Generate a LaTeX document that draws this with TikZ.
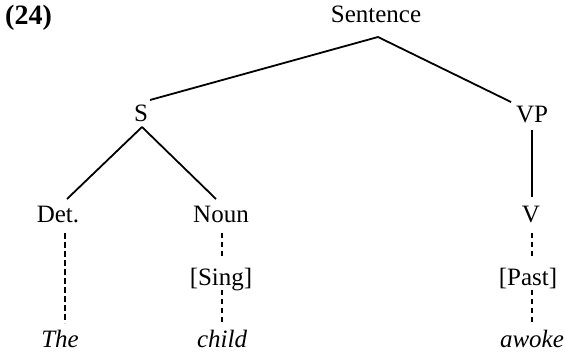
\documentclass[tikz,border=0pt]{standalone}
\usepackage{fontspec}
\setmainfont{Liberation Serif}
\begin{document}
\begin{tikzpicture}[x=1pt,y=-1pt,
  lab/.style={anchor=base,inner sep=0pt,font=\fontsize{25}{30}\selectfont},
  branch/.style={line width=1.8pt},
  dashA/.style={line width=2.4pt,dash pattern=on 6pt off 3pt},
  dashB/.style={line width=1.3pt,dash pattern=on 5pt off 4pt}]
\useasboundingbox (0,0) rectangle (565,351);
\node[lab,anchor=base west,font=\fontsize{28}{32}\selectfont\bfseries] (num) at (5,24) {(24)};
\node[lab] (Sent) at (376,22) {Sentence};
\node[lab] (S) at (141,121) {S};
\node[lab] (VP) at (532,122) {VP};
\node[lab] (Det) at (58,222) {Det.};
\node[lab] (Noun) at (221,222) {Noun};
\node[lab] (V) at (531,222) {V};
\node[lab] (Sing) at (221,285) {[Sing]};
\node[lab] (Past) at (528,285) {[Past]};
\node[lab] (The) at (60,347) {\itshape The};
\node[lab] (child) at (222,347) {\itshape child};
\node[lab] (awoke) at (532,347) {\itshape awoke};
% solid branches
\draw[branch] ([xshift=2pt,yshift=-15pt]Sent.base) -- ([xshift=9pt,yshift=21pt]S.base);
\draw[branch] ([xshift=2pt,yshift=-15pt]Sent.base) -- ([xshift=-21pt,yshift=20pt]VP.base);
\draw[branch] ([xshift=1pt,yshift=-6pt]S.base) -- ([xshift=9pt,yshift=23pt]Det.base);
\draw[branch] ([xshift=1pt,yshift=-6pt]S.base) -- ([xshift=-5pt,yshift=23pt]Noun.base);
\draw[branch] ([yshift=-8pt]VP.base) -- ([xshift=1pt,yshift=25pt]V.base);
% dashed links
\draw[dashA] ([xshift=7pt,yshift=-11pt]Det.base) -- ([xshift=5pt,yshift=24pt]The.base);
\draw[dashB] ([xshift=1pt,yshift=-11pt]Noun.base) -- ([xshift=1pt,yshift=28pt]Sing.base);
\draw[dashB] ([xshift=1pt,yshift=-5pt]Sing.base) -- ([yshift=24pt]child.base);
\draw[dashB] ([xshift=1pt,yshift=-11pt]V.base) -- ([xshift=4pt,yshift=28pt]Past.base);
\draw[dashB] ([xshift=4pt,yshift=-5pt]Past.base) -- ([yshift=24pt]awoke.base);
\end{tikzpicture}
\end{document}
